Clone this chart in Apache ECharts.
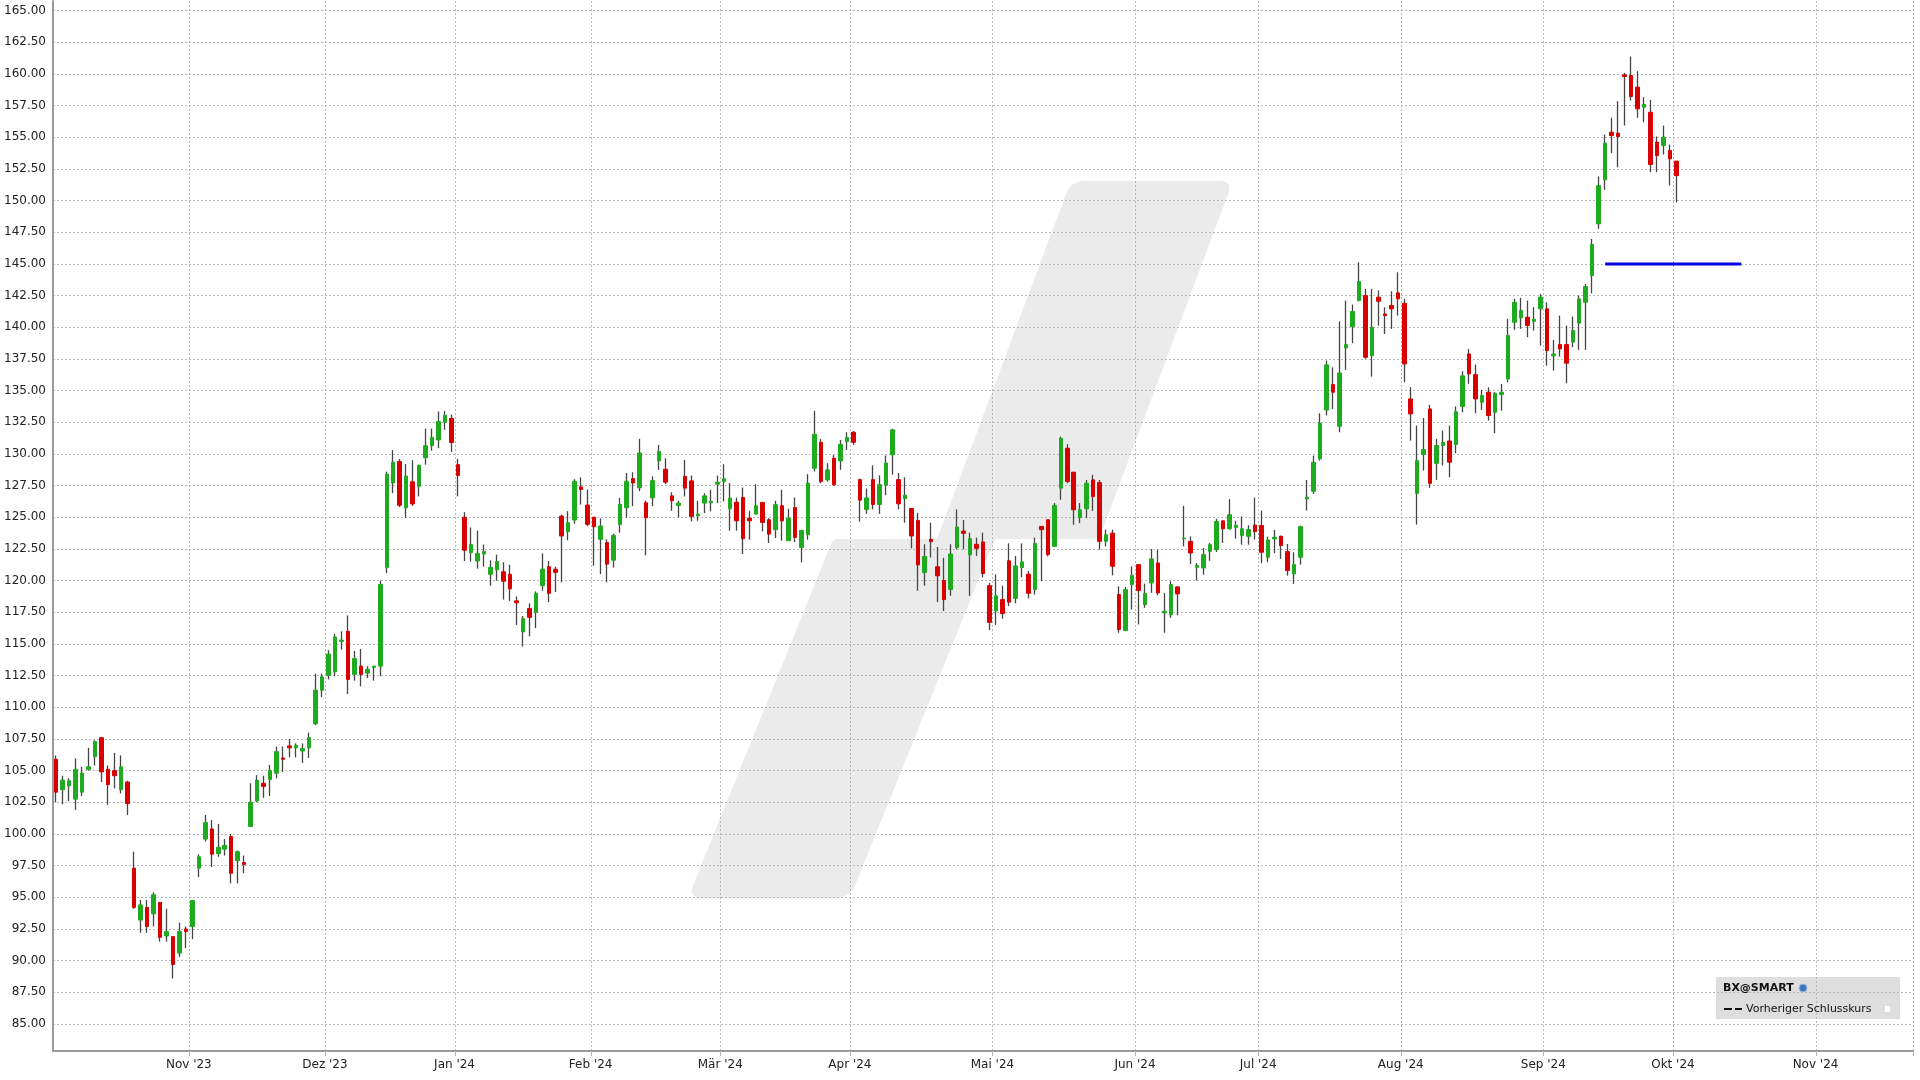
<!DOCTYPE html>
<html>
<head>
<meta charset="utf-8">
<script src="https://cdn.jsdelivr.net/npm/echarts@6.0.0/dist/echarts.min.js"></script>
<style>
html,body{margin:0;padding:0;background:#ffffff;}
#chart{width:1920px;height:1080px;}
</style>
</head>
<body>
<div id="chart"></div>
<script>
// ---------- categories ----------
const firstTradingDay = '2023-10-03';
const closedDays = ['2023-11-23','2023-12-25','2024-01-01','2024-01-15','2024-02-19','2024-03-29',
  '2024-05-27','2024-06-19','2024-07-04','2024-09-02','2024-10-14'];
const slotCount = 287;
const monthNames = ['Jan','Feb','Mär','Apr','Mai','Jun','Jul','Aug','Sep','Okt','Nov','Dez'];

// ---------- y axis ----------
const yMin = 82.87, yMax = 165.75, yStep = 2.5;

// ---------- previous close line ----------
const prevClose = 145.0;
const prevCloseFrom = 239, prevCloseTo = 260;

// ---------- OHLC series ----------
const open = [
105.9,103.5,103.8,102.75,103.3,105.1,106.1,107.6,105.1,105.0,
103.5,104.1,97.3,93.2,94.2,93.7,94.6,91.95,91.9,90.6,
92.5,92.7,97.3,99.6,100.4,98.45,98.8,99.8,97.9,97.75,
100.6,102.6,104.0,104.3,104.8,106.0,106.95,106.8,106.55,106.8,
108.7,111.35,112.5,112.8,115.2,116.0,112.6,113.25,112.7,113.15,
113.25,121.05,127.7,129.4,125.75,127.8,127.45,129.7,130.65,131.1,
132.5,132.8,129.15,125.0,122.2,121.55,122.1,120.5,120.85,120.7,
120.5,118.4,115.95,117.8,117.5,119.6,121.1,120.9,125.09,123.86,
124.78,127.4,125.96,125.01,123.26,123.0,121.61,124.44,125.75,128.05,
127.32,126.14,126.53,129.45,128.79,126.69,125.93,128.22,127.87,125.12,
126.12,126.14,127.61,127.82,125.67,126.19,126.56,124.93,125.25,126.17,
124.8,124.02,125.91,123.15,125.77,122.62,123.62,128.87,130.92,127.95,
129.66,129.45,130.97,131.71,127.97,125.62,127.97,126.01,127.53,129.93,
127.97,126.48,125.69,124.75,120.64,123.26,121.09,120.0,119.3,122.6,
123.91,122.03,122.87,123.05,119.6,117.6,118.5,121.56,118.6,121.03,
120.51,119.3,124.28,124.8,122.7,127.3,130.45,128.56,124.99,125.67,
127.95,127.74,123.1,123.75,118.9,116.06,119.69,121.26,118.11,119.82,
121.39,117.45,117.32,119.5,123.3,123.1,121.05,121.0,122.31,122.44,
124.72,124.09,124.2,123.57,123.49,124.38,124.34,121.84,123.29,123.5,
122.29,120.53,121.84,126.45,127.05,129.61,133.47,135.47,132.18,138.37,
140.05,142.1,142.5,137.76,142.37,141.05,141.71,142.71,141.89,134.34,
126.89,129.97,133.55,129.26,130.66,131.02,130.74,133.74,137.89,136.26,
134.08,134.87,133.29,134.68,135.92,140.39,140.74,140.79,140.47,141.45,
141.45,137.74,138.63,138.63,138.82,140.32,141.97,144.08,148.16,151.63,
155.39,155.32,159.92,159.87,158.95,157.37,156.97,154.61,154.34,153.95,
153.11
];
const high = [
106.2,104.6,104.4,105.97,105.3,106.8,107.4,107.6,105.4,106.4,
106.2,104.2,98.6,94.8,94.8,95.4,94.6,94.1,91.9,93.0,
92.7,94.75,98.4,101.5,101.1,100.8,99.6,100.0,98.7,98.3,
104.0,104.65,104.6,105.45,106.9,106.9,107.5,107.15,107.15,108.0,
112.65,112.65,114.5,115.8,116.0,117.25,114.45,114.6,113.25,113.25,
120.0,128.6,130.3,129.6,129.2,129.5,129.15,132.0,132.0,133.35,
133.4,133.1,129.6,125.4,124.2,123.95,122.85,121.6,122.05,121.45,
121.25,118.75,117.2,118.2,119.15,122.15,121.55,121.1,125.22,125.48,
128.0,128.15,127.19,125.01,124.91,123.26,123.7,126.53,128.49,128.55,
131.19,126.32,128.23,130.71,129.66,126.98,126.3,129.53,128.29,126.3,
126.9,127.17,128.29,129.19,127.69,126.56,127.35,125.51,127.61,126.19,
124.93,126.3,127.17,125.67,126.56,124.01,128.4,133.4,131.18,129.27,
129.92,131.1,131.71,131.81,128.05,127.26,129.1,128.31,129.88,131.98,
128.49,128.15,125.69,125.35,122.87,124.57,122.66,121.8,122.87,125.62,
124.78,123.78,123.39,123.78,119.8,120.5,119.6,122.94,121.95,122.94,
120.77,123.39,124.28,124.8,126.12,131.36,130.76,128.56,126.12,127.95,
128.35,127.95,124.02,124.02,119.55,119.5,121.13,121.26,119.76,122.49,
122.44,119.03,119.95,119.55,125.9,123.49,121.39,122.57,122.97,124.88,
124.72,126.43,124.72,125.07,124.36,126.55,125.53,123.47,124.0,123.55,
122.89,122.24,124.34,127.95,129.87,133.21,137.37,136.84,140.47,142.1,
141.79,145.13,143.03,143.03,142.9,141.58,142.84,144.34,142.24,135.26,
132.24,132.84,133.87,131.18,131.84,132.24,133.75,136.53,138.29,137.05,
135.05,135.26,134.87,135.53,140.66,142.24,142.32,142.1,141.58,142.63,
141.97,139.0,140.92,140.13,140.84,142.5,143.42,146.97,151.9,155.21,
156.53,157.84,160.08,161.37,160.21,158.16,157.95,155.05,155.92,154.42,
153.11
];
const low = [
102.5,102.35,102.6,101.9,103.0,105.0,105.4,104.1,102.3,103.6,
103.2,101.5,94.1,92.2,92.2,92.7,91.5,91.5,88.6,90.3,
91.0,91.7,96.6,99.4,97.4,98.2,98.3,96.1,96.1,96.9,
100.55,102.5,102.85,103.0,104.4,104.9,106.05,106.05,105.6,106.0,
108.6,110.8,112.2,112.45,114.55,111.05,112.1,111.65,112.3,112.1,
112.45,120.6,126.9,125.8,124.95,125.9,126.65,129.15,130.25,130.45,
131.9,130.15,126.65,121.55,121.5,120.95,121.1,119.6,120.0,118.5,
118.4,116.5,114.8,115.6,116.25,119.2,118.3,119.1,119.86,123.18,
124.49,126.0,124.3,121.17,120.51,119.86,121.03,123.78,124.96,125.88,
127.06,122.0,125.88,128.74,127.61,125.51,124.99,126.64,124.67,124.72,
125.33,125.46,126.12,126.25,123.94,123.94,122.1,123.23,125.25,123.88,
122.97,123.36,123.15,123.15,123.04,121.44,123.23,128.61,127.69,127.82,
127.48,128.74,130.31,130.71,124.65,125.27,125.62,125.27,126.74,128.36,
125.62,124.57,122.55,119.2,119.6,121.82,118.3,117.6,118.8,122.47,
122.47,118.8,121.95,120.25,116.1,116.5,117.0,118.0,118.2,120.25,
118.6,118.9,119.95,121.92,122.7,126.38,127.69,124.41,124.54,124.93,
125.51,122.44,122.7,120.42,115.88,116.01,117.72,116.54,117.85,119.03,
118.85,115.88,117.06,117.27,122.7,121.31,120.0,120.47,121.57,122.26,
122.97,124.02,123.31,122.83,122.83,123.25,121.37,121.45,122.16,121.71,
120.39,119.74,121.26,125.53,126.84,129.47,133.03,133.55,131.71,136.63,
138.74,142.05,137.5,136.1,140.13,139.47,139.87,140.92,135.66,131.05,
124.42,128.68,127.32,127.95,129.08,128.16,130.05,133.29,135.53,133.21,
133.47,132.63,131.63,133.42,135.66,139.79,139.87,139.21,139.74,138.55,
136.97,136.58,137.68,135.58,138.42,138.21,138.21,142.68,147.76,150.84,
153.74,152.63,155.92,157.89,156.53,156.18,152.24,152.24,153.63,151.18,
149.87
];
const close = [
103.3,104.25,104.2,105.1,104.8,105.3,107.3,104.9,103.9,104.6,
105.3,102.4,94.2,94.4,92.7,95.2,91.85,92.3,89.7,92.3,
92.3,94.75,98.2,100.9,98.4,98.95,99.1,96.9,98.6,97.6,
102.5,104.25,103.75,105.0,106.5,105.9,106.8,107.0,106.75,107.6,
111.35,112.4,114.2,115.55,115.3,112.2,113.85,112.6,113.0,113.25,
119.7,128.4,129.35,125.95,128.25,126.05,129.1,130.65,131.3,132.55,
133.05,130.9,128.3,122.4,122.85,122.15,122.3,121.05,121.5,119.95,
119.35,118.25,117.0,117.1,119.0,120.9,119.0,120.65,123.52,124.57,
127.84,127.19,124.44,124.25,124.31,121.3,123.57,126.01,127.84,127.71,
130.07,124.96,127.89,130.18,127.77,126.3,126.12,127.3,125.07,125.25,
126.69,126.25,127.77,128.03,126.51,124.72,123.31,124.72,125.91,124.59,
123.67,125.99,124.72,124.93,123.41,123.96,127.69,131.55,127.82,128.74,
127.56,130.76,131.29,130.92,126.35,126.53,126.01,127.58,129.28,131.9,
126.06,126.74,123.52,121.24,121.9,123.08,120.38,118.5,122.1,124.23,
123.73,123.31,122.55,120.56,116.7,118.8,117.4,118.3,121.16,121.48,
119.0,122.94,124.02,122.05,125.93,131.23,127.82,125.59,125.59,127.69,
126.64,123.1,123.62,121.13,116.14,119.29,120.42,119.21,118.98,121.71,
119.03,117.58,119.69,118.95,123.35,122.18,121.21,122.05,122.83,124.67,
124.09,125.2,124.36,124.09,124.02,123.87,122.24,123.21,123.42,122.76,
120.79,121.26,124.26,126.58,129.34,132.42,137.03,134.87,136.39,138.63,
141.24,143.61,137.63,140.0,142.05,140.92,141.45,142.24,137.1,133.16,
129.47,130.34,127.68,130.66,130.92,129.34,133.33,136.16,136.32,134.34,
134.61,133.03,134.79,134.87,139.34,141.97,141.32,140.13,140.63,142.37,
138.16,137.89,138.29,137.16,139.74,142.24,143.21,146.53,151.18,154.53,
155.13,155.05,159.79,158.21,157.24,157.58,152.84,153.55,155.0,153.29,
151.97
];

// ---------- legend texts ----------
const legendTitle = 'BX@SMART';
const legendLine = 'Vorheriger Schlusskurs';

// ---------- styles ----------
const UP = '#1fab1f', DOWN = '#d90000', WICK = '#454545';

function buildTradingDays() {
  const out = [];
  const d = new Date(firstTradingDay + 'T00:00:00Z');
  while (out.length < slotCount) {
    const wd = d.getUTCDay();
    const iso = d.toISOString().slice(0, 10);
    if (wd !== 0 && wd !== 6 && closedDays.indexOf(iso) < 0) out.push(iso);
    d.setUTCDate(d.getUTCDate() + 1);
  }
  return out;
}
const dates = buildTradingDays();
function isMonthStart(index) {
  return index > 0 && dates[index].slice(5, 7) !== dates[index - 1].slice(5, 7);
}
function monthLabel(value) {
  const m = parseInt(value.slice(5, 7), 10) - 1;
  return monthNames[m] + " '" + value.slice(2, 4);
}

const wickData = open.map((o, i) => [o, close[i], low[i], high[i]]);
const bodyData = open.map((o, i) => [o, close[i], Math.min(o, close[i]), Math.max(o, close[i])]);
const prevLine = dates.map((d, i) => (i >= prevCloseFrom && i <= prevCloseTo) ? prevClose : null);

function roundPoly(pts, radii) {
  const out = [];
  const n = pts.length;
  for (let i = 0; i < n; i++) {
    const p = pts[i], a = pts[(i - 1 + n) % n], b = pts[(i + 1) % n];
    const r = radii[i];
    if (!r) { out.push(p); continue; }
    const la = Math.hypot(a[0] - p[0], a[1] - p[1]);
    const lb = Math.hypot(b[0] - p[0], b[1] - p[1]);
    const s = [p[0] + (a[0] - p[0]) * r / la, p[1] + (a[1] - p[1]) * r / la];
    const e = [p[0] + (b[0] - p[0]) * r / lb, p[1] + (b[1] - p[1]) * r / lb];
    for (let k = 0; k <= 6; k++) {
      const t = k / 6;
      out.push([
        (1 - t) * (1 - t) * s[0] + 2 * (1 - t) * t * p[0] + t * t * e[0],
        (1 - t) * (1 - t) * s[1] + 2 * (1 - t) * t * p[1] + t * t * e[1]
      ]);
    }
  }
  return out;
}

const chart = echarts.init(document.getElementById('chart'), null, { renderer: 'canvas' });
const WM = '#ebebeb';
chart.setOption({
  animation: false,
  backgroundColor: '#ffffff',
  grid: { left: 53, right: 7, top: 1, bottom: 29, containLabel: false },
  xAxis: {
    type: 'category',
    data: dates,
    boundaryGap: true,
    axisLine: { show: true, lineStyle: { color: '#9a9a9a', width: 2 } },
    axisTick: { show: true, interval: isMonthStart, length: 5, lineStyle: { color: '#b5b5b5' } },
    axisLabel: {
      interval: isMonthStart,
      formatter: (v) => monthLabel(v),
      fontFamily: 'DejaVu Sans', fontSize: 12, color: '#222', margin: 8,
      padding: [0, 7, 0, 0]
    },
    splitLine: { show: true, interval: isMonthStart, lineStyle: { color: '#b8b8b8', type: [2, 2], width: 1 } }
  },
  yAxis: {
    type: 'value',
    min: yMin, max: yMax,
    splitNumber: 33, minInterval: yStep, maxInterval: yStep,
    axisLine: { show: true, lineStyle: { color: '#9a9a9a', width: 2 } },
    axisTick: { show: false },
    axisLabel: {
      showMinLabel: false, showMaxLabel: false,
      formatter: (v) => v.toFixed(2),
      fontFamily: 'DejaVu Sans', fontSize: 12, color: '#222', margin: 7,
      padding: [3, 0, 0, 0]
    },
    splitLine: { show: true, showMinLine: false, showMaxLine: false, lineStyle: { color: '#b8b8b8', type: [2, 2], width: 1 } }
  },
  graphic: [
    { type: 'polygon', z: -10, silent: true,
      shape: { points: roundPoly([[1071,181],[1233,181],[1099,539],[937,539]], [14,14,5,0]) },
      style: { fill: WM } },
    { type: 'polygon', z: -10, silent: true,
      shape: { points: roundPoly([[833,539],[995,539],[850,898],[688,898]], [5,0,14,14]) },
      style: { fill: WM } },
    { type: 'rect', z: -5, silent: true, shape: { x: 1716, y: 977, width: 184, height: 42 }, style: { fill: '#dedede' } },
    { type: 'text', z: 100, x: 1723, y: 988, style: { text: legendTitle, font: 'bold 11px "DejaVu Sans"', fill: '#111', verticalAlign: 'middle', align: 'left' } },
    { type: 'circle', z: 100, shape: { cx: 1803, cy: 988, r: 4 }, style: { fill: '#3b78c2', stroke: '#9bbbe0', lineWidth: 1 } },
    { type: 'line', z: 100, shape: { x1: 1724, y1: 1009, x2: 1742, y2: 1009 }, style: { stroke: '#111', lineWidth: 2, lineDash: [8, 3] } },
    { type: 'text', z: 100, x: 1746, y: 1009, style: { text: legendLine, font: '11px "DejaVu Sans"', fill: '#111', verticalAlign: 'middle', align: 'left' } },
    { type: 'rect', z: 100, shape: { x: 1884, y: 1005, width: 7, height: 8 }, style: { fill: '#ffffff', stroke: '#cfcfcf', lineWidth: 1 } }
  ],
  series: [
    {
      type: 'candlestick', name: 'wick', data: wickData, barWidth: 1, z: 2, silent: true,
      itemStyle: { color: WICK, color0: WICK, borderColor: WICK, borderColor0: WICK, borderColorDoji: WICK, borderWidth: 1.3 }
    },
    {
      type: 'candlestick', name: 'body', data: bodyData, barWidth: 4, z: 3, silent: true,
      itemStyle: { color: UP, color0: DOWN, borderColor: UP, borderColor0: DOWN, borderColorDoji: UP, borderWidth: 1 }
    },
    {
      type: 'line', name: 'prev', data: prevLine, symbol: 'none', z: 4, silent: true,
      lineStyle: { color: '#0000e0', width: 3 }
    }
  ]
});
</script>
</body>
</html>
